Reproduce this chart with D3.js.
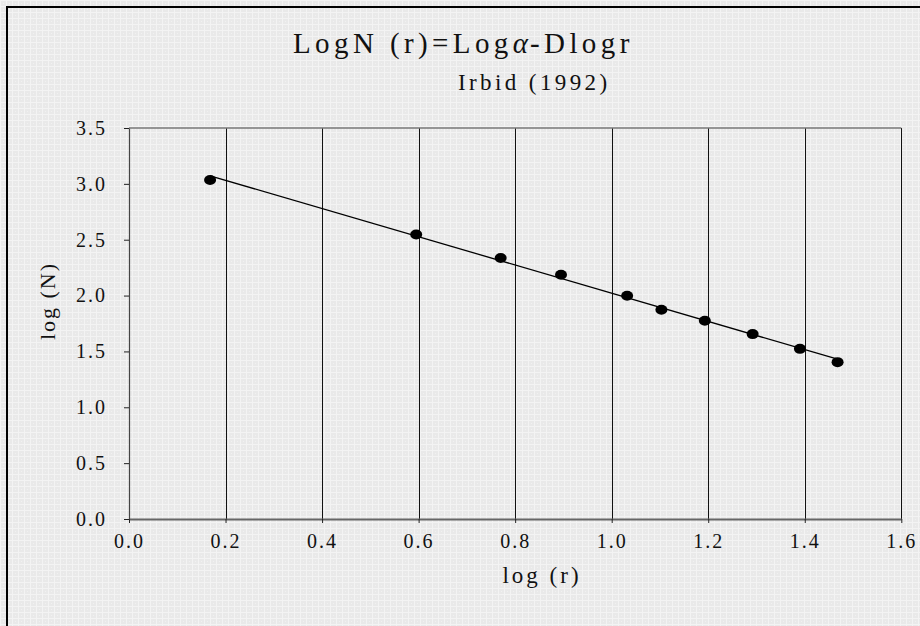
<!DOCTYPE html>
<html>
<head>
<meta charset="utf-8">
<script src="https://cdn.jsdelivr.net/npm/d3@7"></script>
<style>
  html, body { margin: 0; padding: 0; background: #ececec; }
  svg { display: block; }
</style>
</head>
<body>
<div id="chart"></div>
<script>
// data
const logR = [0.168, 0.595, 0.770, 0.895, 1.032, 1.103, 1.193, 1.292, 1.390, 1.468];
const logN = [3.035, 2.547, 2.336, 2.186, 1.998, 1.873, 1.774, 1.655, 1.523, 1.404];
const xTicks = [0.0, 0.2, 0.4, 0.6, 0.8, 1.0, 1.2, 1.4, 1.6];
const yTicks = [0.0, 0.5, 1.0, 1.5, 2.0, 2.5, 3.0, 3.5];

const width = 920;
const height = 626;
const margin = { top: 128, right: 18, bottom: 107, left: 129 };
const serif = "'Liberation Serif', 'Times New Roman', serif";

const svg = d3.select("#chart")
    .append("svg")
    .attr("width", width)
    .attr("height", height);

// textured grey background
const defs = svg.append("defs");
const pat = defs.append("pattern")
    .attr("id", "tex")
    .attr("width", 6)
    .attr("height", 6)
    .attr("patternUnits", "userSpaceOnUse");
pat.append("rect").attr("width", 6).attr("height", 6).attr("fill", "#e9e9e9");
pat.append("rect").attr("x", 0).attr("y", 0).attr("width", 6).attr("height", 1).attr("fill", "#f3f3f3");
pat.append("rect").attr("x", 0).attr("y", 0).attr("width", 1).attr("height", 6).attr("fill", "#f3f3f3");
pat.append("rect").attr("x", 3).attr("y", 3).attr("width", 1).attr("height", 1).attr("fill", "#f1f1f1");

svg.append("rect")
    .attr("width", width)
    .attr("height", height)
    .attr("fill", "url(#tex)");

// outer frame (runs off the right and bottom edges)
svg.append("rect")
    .attr("x", 7)
    .attr("y", 7)
    .attr("width", width + 20)
    .attr("height", height + 20)
    .attr("fill", "none")
    .attr("stroke", "#000")
    .attr("stroke-width", 2);

const x = d3.scaleLinear()
    .domain([0, 1.6])
    .range([margin.left, width - margin.right - 0.7]);

const y = d3.scaleLinear()
    .domain([0, 3.5])
    .range([height - margin.bottom, margin.top]);

// vertical grid lines
svg.append("g")
    .selectAll("line")
    .data(xTicks.slice(1))
    .join("line")
    .attr("x1", d => Math.round(x(d)) + 0.5)
    .attr("x2", d => Math.round(x(d)) + 0.5)
    .attr("y1", y(3.5))
    .attr("y2", y(0))
    .attr("stroke", "#111")
    .attr("stroke-width", 1);

// top border
svg.append("line")
    .attr("x1", x(0))
    .attr("x2", x(1.6))
    .attr("y1", y(3.5))
    .attr("y2", y(3.5))
    .attr("stroke", "#777")
    .attr("stroke-width", 1.5);

// axes
const xAxis = svg.append("g")
    .attr("transform", `translate(0,${y(0)})`)
    .call(d3.axisBottom(x).tickValues(xTicks).tickSize(4).tickSizeOuter(0).tickFormat(d3.format(".1f")));

const yAxis = svg.append("g")
    .attr("transform", `translate(${x(0)},0)`)
    .call(d3.axisLeft(y).tickValues(yTicks).tickSize(5).tickSizeOuter(0).tickFormat(d3.format(".1f")));

xAxis.select(".domain").attr("stroke", "#666").attr("stroke-width", 2);
yAxis.select(".domain").attr("stroke", "#444").attr("stroke-width", 1.2);
svg.selectAll(".tick line").attr("stroke", "#222");

xAxis.selectAll("text")
    .attr("y", 15)
    .attr("font-family", serif)
    .attr("font-size", 20)
    .attr("letter-spacing", 2)
    .attr("fill", "#111");

yAxis.selectAll("text")
    .attr("x", -22)
    .attr("font-family", serif)
    .attr("font-size", 20)
    .attr("letter-spacing", 2)
    .attr("fill", "#111");

// fitted line (least squares over the points)
const mx = d3.mean(logR);
const my = d3.mean(logN);
const slope = d3.sum(logR, (v, i) => (v - mx) * (logN[i] - my)) / d3.sum(logR, v => (v - mx) * (v - mx));
const icpt = my - slope * mx;
const fitX = d3.extent(logR);

svg.append("line")
    .attr("x1", x(fitX[0]))
    .attr("y1", y(icpt + slope * fitX[0]))
    .attr("x2", x(fitX[1]))
    .attr("y2", y(icpt + slope * fitX[1]))
    .attr("stroke", "#000")
    .attr("stroke-width", 1.3);

// points
svg.append("g")
    .selectAll("ellipse")
    .data(logR)
    .join("ellipse")
    .attr("cx", d => x(d))
    .attr("cy", (d, i) => y(logN[i]))
    .attr("rx", 6)
    .attr("ry", 5)
    .attr("fill", "#000");

// titles
const title = svg.append("text")
    .attr("x", 293)
    .attr("y", 53)
    .attr("font-family", serif)
    .attr("font-size", 29)
    .attr("letter-spacing", 4.4)
    .attr("fill", "#111");
title.append("tspan").text("LogN (r)=Log");
title.append("tspan").attr("font-style", "italic").attr("letter-spacing", 2).text("\u03B1");
title.append("tspan").text("-Dlogr");

svg.append("text")
    .attr("x", 458)
    .attr("y", 90)
    .attr("font-family", serif)
    .attr("font-size", 23)
    .attr("letter-spacing", 3.4)
    .attr("fill", "#111")
    .text("Irbid (1992)");

// axis labels
svg.append("text")
    .attr("x", 542)
    .attr("y", 583)
    .attr("text-anchor", "middle")
    .attr("font-family", serif)
    .attr("font-size", 23)
    .attr("letter-spacing", 3)
    .attr("fill", "#111")
    .text("log (r)");

svg.append("text")
    .attr("transform", "translate(55,301) rotate(-90)")
    .attr("text-anchor", "middle")
    .attr("font-family", serif)
    .attr("font-size", 22)
    .attr("letter-spacing", 2)
    .attr("fill", "#111")
    .text("log (N)");
</script>
</body>
</html>
